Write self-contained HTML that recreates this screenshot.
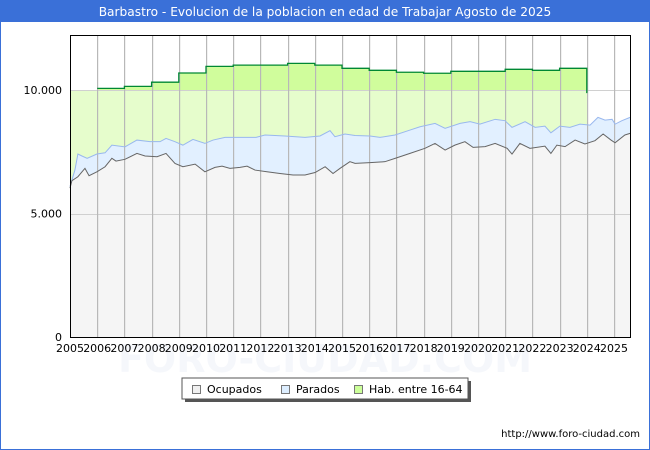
<!DOCTYPE html>
<html><head><meta charset="utf-8"><style>
body{margin:0;background:#fff;}
svg{display:block;font-family:"DejaVu Sans","Liberation Sans",sans-serif;}
</style></head><body>
<svg id="chart" width="650" height="450" viewBox="0 0 650 450">
<rect x="0" y="0" width="650" height="450" fill="#fff" stroke="#3a70d8" stroke-width="2"/>
<rect x="0" y="0" width="650" height="22" fill="#3a70d8"/>
<text x="325" y="16" text-anchor="middle" fill="#fff" font-size="12.2">Barbastro - Evolucion de la poblacion en edad de Trabajar Agosto de 2025</text>
<text x="325" y="372" text-anchor="middle" fill="#f5f7fb" font-size="38" font-weight="bold">FORO-CIUDAD.COM</text>
<g id="plot"></g>
<g id="grid"></g>
<g id="lines"></g>
<g id="axes"></g>
<g>
<rect x="185" y="381" width="286" height="21" fill="#555"/>
<rect x="182" y="378" width="286" height="21" fill="#fff" stroke="#555" stroke-width="1"/>
<g><rect x="192.5" y="385.5" width="8" height="8" fill="#f0f0f0" stroke="#777"/><text x="207" y="393" font-size="11" fill="#000">Ocupados</text></g>
<g><rect x="281.5" y="385.5" width="8" height="8" fill="#ddeeff" stroke="#777"/><text x="296" y="393" font-size="11" fill="#000">Parados</text></g>
<g><rect x="354.5" y="385.5" width="8" height="8" fill="#ccff99" stroke="#777"/><text x="369" y="393" font-size="11" fill="#000">Hab. entre 16-64</text></g>
</g>
<text x="640" y="437" text-anchor="end" font-size="10" fill="#000">http://www.foro-ciudad.com</text>
</svg>
<script>
const habYears=[2005,2006,2007,2008,2009,2010,2011,2012,2013,2014,2015,2016,2017,2018,2019,2020,2021,2022,2023,2024];
const habValues=[10000,10070,10150,10320,10690,10960,11010,11010,11080,11010,10880,10800,10720,10680,10760,10760,10840,10800,10880,9900];
const occTimes=[0,0.07,0.29,0.55,0.70,0.99,1.29,1.54,1.69,2.02,2.46,2.76,3.20,3.53,3.86,4.15,4.60,4.96,5.33,5.59,5.88,6.25,6.51,6.80,7.24,7.72,8.20,8.64,9.01,9.38,9.67,9.93,10.29,10.48,11.03,11.58,11.95,12.50,13.05,13.42,13.79,14.15,14.52,14.82,15.26,15.63,16.07,16.25,16.54,16.91,17.46,17.68,17.90,18.20,18.57,18.93,19.30,19.60,19.89,20.04,20.40,20.59];
const occValues=[6030,6330,6490,6830,6530,6690,6895,7235,7125,7195,7435,7330,7300,7435,7030,6895,7000,6690,6870,6920,6830,6870,6920,6760,6690,6620,6560,6560,6660,6895,6620,6830,7100,7030,7060,7100,7235,7435,7640,7840,7570,7770,7910,7680,7710,7840,7640,7410,7840,7640,7730,7435,7770,7710,7975,7815,7950,8220,7975,7865,8180,8245];
const parTimes=[0,0.18,0.29,0.44,0.63,0.99,1.29,1.54,2.02,2.46,2.94,3.31,3.53,3.86,4.15,4.52,4.96,5.26,5.70,6.43,6.84,7.17,7.90,8.64,9.19,9.56,9.74,10.11,10.48,11.03,11.40,11.95,12.50,12.87,13.42,13.79,14.34,14.71,15.07,15.63,15.99,16.25,16.73,17.10,17.46,17.68,18.01,18.38,18.75,19.12,19.41,19.67,19.93,20.04,20.29,20.59];
const parValues=[6100,6760,7410,7330,7235,7410,7460,7770,7700,7975,7910,7910,8040,7910,7770,8000,7840,7975,8085,8085,8085,8180,8140,8085,8140,8355,8110,8220,8160,8140,8085,8180,8380,8515,8650,8450,8650,8720,8620,8815,8760,8490,8720,8490,8540,8270,8540,8490,8620,8580,8895,8785,8815,8620,8760,8895];
const yTicks=[0,5000,10000];
const yTickLabels=["0","5.000","10.000"];
const xYears=[2005,2006,2007,2008,2009,2010,2011,2012,2013,2014,2015,2016,2017,2018,2019,2020,2021,2022,2023,2024,2025];

const L=70,R=630,T=35,B=337,yMax=12230;
const endT=20.59;
const X=t=>L+t*27.2;
const Y=v=>B-v*(B-T)/yMax;
const NS="http://www.w3.org/2000/svg";
const plot=document.getElementById('plot'),grid=document.getElementById('grid'),lines=document.getElementById('lines'),axes=document.getElementById('axes');
function mk(tag,attrs,parent){const e=document.createElementNS(NS,tag);for(const k in attrs)e.setAttribute(k,attrs[k]);parent.appendChild(e);return e;}

let habPts=[];
habYears.forEach((yr,i)=>{const t0=yr-2005;const t1=i<habYears.length-1?habYears[i+1]-2005:t0+0.02;habPts.push([X(t0),Y(habValues[i])],[X(t1),Y(habValues[i])]);});
const lastHab=habPts[habPts.length-1][0];
let habArea="M"+X(0)+","+B+" "+habPts.map(p=>"L"+p[0]+","+p[1]).join(" ")+" L"+lastHab+","+B+"Z";
const defs=mk('defs',{},plot);
const cp=mk('clipPath',{id:'above10k'},defs);
mk('rect',{x:L,y:T,width:R-L,height:Y(10000)-T},cp);
const habFill=mk('path',{d:habArea,fill:'#e6fdcc'},plot);


const habFill2=mk('path',{d:habArea,fill:'#d0fd9c','clip-path':'url(#above10k)'},plot);



function series(times,vals){return times.map((t,i)=>[X(t),Y(vals[i])]);}
const par=series(parTimes,parValues),occ=series(occTimes,occValues);
const parArea=mk('path',{d:"M"+X(0)+","+B+" "+par.map(p=>"L"+p[0]+","+p[1]).join(" ")+" L"+X(endT)+","+B+"Z",fill:'#e2f0ff'},plot);


const occArea=mk('path',{d:"M"+X(0)+","+B+" "+occ.map(p=>"L"+p[0]+","+p[1]).join(" ")+" L"+X(endT)+","+B+"Z",fill:'#f5f5f5'},plot);



yTicks.forEach((v,i)=>{
  if(v>0){const g=mk('rect',{x:L,y:Math.round(Y(v)),width:R-L,height:1,fill:'#d0d0d0'},grid);
  
  }
  const tl=mk('text',{x:L-8,y:Y(v)+4,'text-anchor':'end','font-size':11,fill:'#000'},axes);tl.textContent=yTickLabels[i];
  
  
});
xYears.forEach((yr,i)=>{
  const x=X(yr-2005);
  if(i>0){const g=mk('rect',{x:Math.round(x),y:T,width:1.2,height:B-T,fill:'#b8b8b8'},grid);
  
  }
  const tl=mk('text',{x:x,y:B+15,'text-anchor':'middle','font-size':11,fill:'#000'},axes);tl.textContent=yr;
  
  
});

const habLine=mk('path',{d:"M"+habPts.slice(2).map(p=>p[0]+","+p[1]).join(" L")+" L"+lastHab+","+Y(9900),fill:'none',stroke:'#008833','stroke-width':1.3},lines);


const parLine=mk('polyline',{points:par.map(p=>p.join(",")).join(" "),fill:'none',stroke:'#99b8ee','stroke-width':1},lines);


const occLine=mk('polyline',{points:occ.map(p=>p.join(",")).join(" "),fill:'none',stroke:'#666','stroke-width':1},lines);


const frame=mk('rect',{x:L+0.5,y:T+0.5,width:R-L,height:B-T,fill:'none',stroke:'#000','stroke-width':1},axes);


</script>
</body></html>
